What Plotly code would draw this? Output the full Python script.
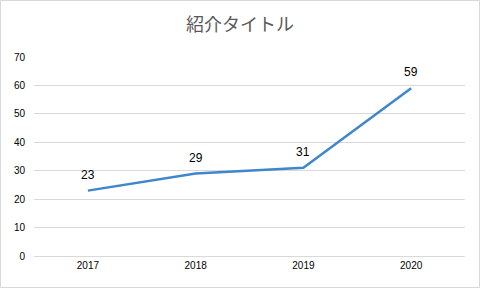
import plotly.graph_objects as go

years = ["2017", "2018", "2019", "2020"]
values = [23, 29, 31, 59]
title = "紹介タイトル"
y_ticks = [0, 10, 20, 30, 40, 50, 60, 70]

W, H = 480, 288
ml, mr, mt, mb = 34, 15, 57, 32
pw, ph = W - ml - mr, H - mt - mb

fig = go.Figure()
fig.add_trace(go.Scatter(
    x=years, y=values, mode="lines",
    line=dict(color="#3F86CD", width=2.5),
    hoverinfo="skip", showlegend=False,
))
for i, yv in enumerate(values):
    fig.add_annotation(x=i, y=yv, xref="x", yref="y", text=str(yv), showarrow=False, yshift=16,
                       font=dict(family="Liberation Sans, Arial", size=12, color="#000000"))

fig.update_layout(
    width=W, height=H,
    margin=dict(l=ml, r=mr, t=mt, b=mb),
    paper_bgcolor="white", plot_bgcolor="white",
    title=dict(text=title, x=0.5, xref="container", xanchor="center", y=1 - 25 / H, yanchor="middle",
               font=dict(family="Noto Sans CJK JP", size=18, color="#595959")),
    xaxis=dict(type="category", range=[-0.5, 3.5], showgrid=False,
               showline=True, linecolor="#D9D9D9", linewidth=1, ticks="",
               tickfont=dict(family="Liberation Sans, Arial", size=10, color="#000000"),
               fixedrange=True),
    yaxis=dict(range=[0, 70], tickvals=y_ticks, showgrid=True, gridcolor="#D9D9D9",
               gridwidth=1, zeroline=False, showline=False, ticks="",
               ticklabelstandoff=8,
               tickfont=dict(family="Liberation Sans, Arial", size=10, color="#000000"),
               fixedrange=True),
    shapes=[dict(type="rect", xref="paper", yref="paper",
                 x0=-(ml - 0.5) / pw, x1=1 + (mr - 0.5) / pw,
                 y0=-(mb - 0.5) / ph, y1=1 + (mt - 0.5) / ph,
                 line=dict(color="#D9D9D9", width=1), layer="below")],
)
fig.write_html("out.html")
